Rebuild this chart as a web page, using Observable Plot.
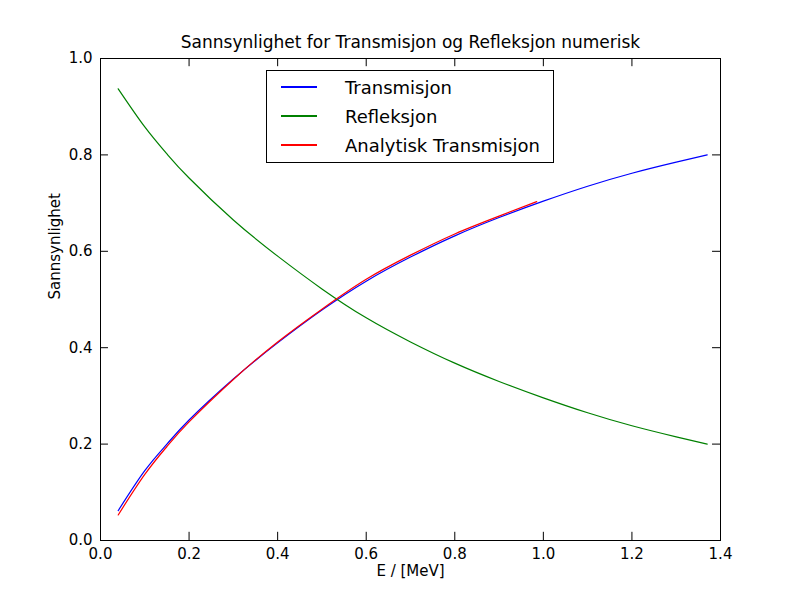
<!DOCTYPE html>
<html><head><meta charset="utf-8">
<script src="https://cdn.jsdelivr.net/npm/d3@7"></script>
<script src="https://cdn.jsdelivr.net/npm/@observablehq/plot@0.6"></script>
<style>
body{margin:0;background:#fff;font-family:"DejaVu Sans",sans-serif}
#wrap{position:relative;width:800px;height:600px}
#legend{position:absolute;left:266px;top:70px;width:288px;height:93px;border:1px solid #000;background:#fff;font-size:18px;box-sizing:border-box}
#legend div.row{position:absolute;left:14px;height:22px;display:flex;align-items:center}
#legend div.sw{width:36px;height:1.5px;margin-right:28px}
</style></head>
<body><div id="wrap"><div id="chart"></div>
<div id="legend"></div></div>
<script>
const titleText = "Sannsynlighet for Transmisjon og Refleksjon numerisk";
const xLabel = "E / [MeV]";
const yLabel = "Sannsynlighet";
const xTicks = [0, 0.2, 0.4, 0.6, 0.8, 1.0, 1.2, 1.4];
const yTicks = [0, 0.2, 0.4, 0.6, 0.8, 1.0];

const transE = [0.04, 0.1, 0.15, 0.2, 0.3, 0.4, 0.5, 0.6, 0.7, 0.8, 0.9, 1.0, 1.1, 1.2, 1.3, 1.37];
const transP = [0.062, 0.145, 0.2, 0.25, 0.335, 0.41, 0.478, 0.538, 0.588, 0.632, 0.67, 0.704, 0.735, 0.762, 0.785, 0.80];
const reflE = [0.04, 0.1, 0.15, 0.2, 0.3, 0.4, 0.5, 0.6, 0.7, 0.8, 0.9, 1.0, 1.1, 1.2, 1.3, 1.37];
const reflP = [0.937, 0.858, 0.802, 0.752, 0.665, 0.59, 0.522, 0.462, 0.412, 0.368, 0.33, 0.296, 0.265, 0.238, 0.215, 0.20];
const anaE = [0.04, 0.1, 0.15, 0.2, 0.3, 0.4, 0.5, 0.6, 0.7, 0.8, 0.9, 0.985];
const anaP = [0.053, 0.137, 0.195, 0.246, 0.334, 0.412, 0.48, 0.542, 0.592, 0.636, 0.673, 0.703];

const series = [
  {label: "Transmisjon", color: "#0000ff", e: transE, p: transP},
  {label: "Refleksjon", color: "#008000", e: reflE, p: reflP},
  {label: "Analytisk Transmisjon", color: "#ff0000", e: anaE, p: anaP}
];
const rows = series.flatMap(s => s.e.map((e, i) => ({e, p: s.p[i], s: s.label})));

const fig = Plot.plot({
  width: 800, height: 600,
  marginTop: 58, marginLeft: 100, marginRight: 80, marginBottom: 60,
  style: {fontFamily: "DejaVu Sans", fontSize: "15px", color: "#000"},
  x: {domain: [0, 1.4], ticks: xTicks, tickFormat: d3.format(".1f"), tickSize: 0, tickPadding: 8, label: null},
  y: {domain: [0, 1], ticks: yTicks, tickFormat: d3.format(".1f"), tickSize: 0, tickPadding: 8, label: null},
  color: {domain: series.map(s => s.label), range: series.map(s => s.color)},
  marks: [
    Plot.ruleX(xTicks, {x: d => d, y1: 0, y2: 0.017, stroke: "#000"}),
    Plot.ruleX(xTicks, {x: d => d, y1: 0.983, y2: 1, stroke: "#000"}),
    Plot.ruleY(yTicks, {y: d => d, x1: 0, x2: 0.018, stroke: "#000"}),
    Plot.ruleY(yTicks, {y: d => d, x1: 1.382, x2: 1.4, stroke: "#000"}),
    Plot.line(rows, {x: "e", y: "p", z: "s", stroke: "s", strokeWidth: 1.2, curve: "natural"}),
    Plot.frame({stroke: "#000"}),
    Plot.text([titleText], {frameAnchor: "top", dy: -11, fontSize: 17, lineAnchor: "bottom"}),
    Plot.text([xLabel], {frameAnchor: "bottom", dy: 35, fontSize: 15}),
    Plot.text([yLabel], {frameAnchor: "left", dx: -45, rotate: -90, fontSize: 15})
  ]
});
document.getElementById("chart").append(fig);

const leg = document.getElementById("legend");
series.forEach((s, i) => {
  const d = document.createElement("div");
  d.className = "row";
  d.style.top = (5 + i * 29) + "px";
  d.innerHTML = `<div class="sw" style="background:${s.color}"></div>${s.label}`;
  leg.append(d);
});
</script></body></html>
